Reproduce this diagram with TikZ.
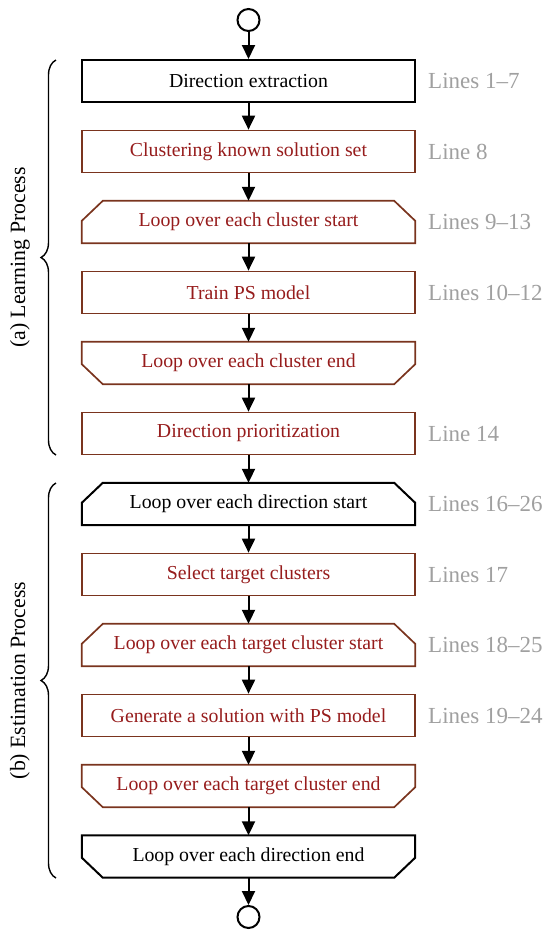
\documentclass[tikz,border=0pt]{standalone}
\usepackage{fontspec}
\setmainfont{Liberation Serif}
\usetikzlibrary{arrows.meta,decorations.pathreplacing}
\definecolor{boxred}{RGB}{122,52,30}
\definecolor{txtred}{RGB}{150,28,28}
\definecolor{linegray}{RGB}{160,160,160}
\tikzset{
  base/.style={rectangle,minimum width=333pt,minimum height=42pt,inner sep=0pt,font=\fontsize{19.8}{24}\selectfont},
  blackbox/.style={base,draw=black,line width=2pt,text=black},
  redbox/.style={base,draw=boxred,line width=1.7pt,text=txtred},
  redloop/.style={base,text=txtred},
  blackloop/.style={base,text=black},
  redline/.style={draw=boxred,line width=1.7pt,line join=miter},
  blackline/.style={draw=black,line width=2pt,line join=miter},
  term/.style={circle,draw=black,line width=2pt,minimum size=22pt,inner sep=0pt},
  lineslbl/.style={anchor=west,inner sep=0pt,text=linegray,font=\fontsize{23}{27}\selectfont},
  conn/.style={line width=2pt,-{Triangle[length=14pt,width=13pt]}},
  bracestyle/.style={decorate,decoration={brace,amplitude=15pt},line width=1.4pt},
  sidelbl/.style={rotate=90,font=\fontsize{21.8}{26}\selectfont}
}
\newcommand{\octtop}[2]{\draw[#1] ([yshift=-20pt]#2.north west) -- ([xshift=21pt]#2.north west) -- ([xshift=-21pt]#2.north east) -- ([yshift=-20pt]#2.north east) -- (#2.south east) -- (#2.south west) -- cycle;}
\newcommand{\octbot}[2]{\draw[#1] (#2.north west) -- (#2.north east) -- ([yshift=20pt]#2.south east) -- ([xshift=-21pt]#2.south east) -- ([xshift=21pt]#2.south west) -- ([yshift=20pt]#2.south west) -- cycle;}
\begin{document}
\begin{tikzpicture}[x=1pt,y=-1pt]
\useasboundingbox (0,0) rectangle (550,938);
\node[term] (s) at (248.5,20) {};
\node[blackbox] (n1) at (248.5,81) {Direction extraction};
\node[redbox] (n2) at (248.5,151.5) {Clustering known solution set};
\node[redloop] (n3) at (248.5,222) {Loop over each cluster start};
\node[redbox] (n4) at (248.5,292.5) {Train PS model};
\node[redloop] (n5) at (248.5,363) {Loop over each cluster end};
\node[redbox] (n6) at (248.5,433.5) {Direction prioritization};
\node[blackloop] (n7) at (248.5,504) {Loop over each direction start};
\node[redbox] (n8) at (248.5,574.5) {Select target clusters};
\node[redloop] (n9) at (248.5,645) {Loop over each target cluster start};
\node[redbox] (n10) at (248.5,715.5) {Generate a solution with PS model};
\node[redloop] (n11) at (248.5,786) {Loop over each target cluster end};
\node[blackloop] (n12) at (248.5,856.5) {Loop over each direction end};
\node[term] (e) at (248.5,917) {};

\octtop{redline}{n3}
\octbot{redline}{n5}
\octtop{blackline}{n7}
\octtop{redline}{n9}
\octbot{redline}{n11}
\octbot{blackline}{n12}

\draw[conn] (s) -- (n1);
\foreach \a/\b in {n1/n2,n2/n3,n3/n4,n4/n5,n5/n6,n6/n7,n7/n8,n8/n9,n9/n10,n10/n11,n11/n12}
  \draw[conn] (\a) -- (\b);
\draw[conn] (n12) -- (e);

\node[lineslbl] (l1) at (428,81) {Lines 1--7};
\node[lineslbl] (l2) at (428,151.5) {Line 8};
\node[lineslbl] (l3) at (428,222) {Lines 9--13};
\node[lineslbl] (l4) at (428,292.5) {Lines 10--12};
\node[lineslbl] (l6) at (428,433.5) {Line 14};
\node[lineslbl] (l7) at (428,504) {Lines 16--26};
\node[lineslbl] (l8) at (428,574.5) {Lines 17};
\node[lineslbl] (l9) at (428,645) {Lines 18--25};
\node[lineslbl] (l10) at (428,715.5) {Lines 19--24};

\draw[bracestyle] (56,455) -- (56,60);
\draw[bracestyle] (56,878) -- (56,483);
\node[sidelbl] (la) at (20,257.5) {(a) Learning Process};
\node[sidelbl] (lb) at (20,680.5) {(b) Estimation Process};
\end{tikzpicture}
\end{document}
